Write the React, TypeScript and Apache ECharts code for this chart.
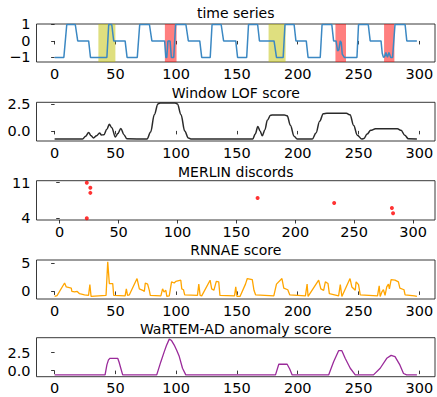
import React, { useEffect, useRef } from 'react';
import * as echarts from 'echarts';

// ---------- data ----------
const xTicks = [0, 50, 100, 150, 200, 250, 300];

const panelTitles = ['time series', 'Window LOF score', 'MERLIN discords', 'RNNAE score', 'WaRTEM-AD anomaly score'];

const timeSeries: [number, number][] = [
  [0, -1], [7.6, -1], [10, 1], [17, 1], [19, 0], [28, 0], [29.5, -1],
  [43, -1], [44.5, 1], [47, 1], [48.6, 0], [58, 0], [59.6, -1],
  [68, -1], [70, 1], [78, 1], [80, 0], [90.5, 0], [91.5, -1], [92.3, -1], [93.2, 0], [95, 0], [96, -1], [98, -1], [99.5, 1],
  [108, 1], [110, 0], [119.4, 0], [121, -1], [128, -1], [129.5, 1], [137, 1], [139, 0], [149, 0], [150.5, -1],
  [158, -1], [159.5, 1], [167, 1], [168.5, 0], [180.5, 0], [182.5, -1], [188, -1], [189.5, 1], [197, 1], [198.5, 0],
  [207, 0], [208.5, -1], [218.5, -1], [220, 1], [228, 1], [229.5, 0], [231.5, 0], [232.8, -0.6], [233.8, -0.55],
  [235, 0], [235.8, -0.1], [236.6, -0.8], [238.3, -1], [248.7, -1], [250, 1], [258, 1], [259.6, 0], [268.5, 0],
  [269.5, -0.75], [270.5, -1], [271.5, -0.95], [272.5, -0.7], [273.8, -1], [275, -0.7], [276.5, -1], [278, -1],
  [280, 1], [288.3, 1], [289.7, 0], [298, 0],
];

const normalRegions: [number, number][] = [[36, 50], [176, 190]];
const anomalyRegions: [number, number][] = [[90.7, 100.3], [231, 239.7], [271, 279.5]];

const lofScore: [number, number][] = [
  [0, -0.76], [23, -0.76], [25.5, -0.5], [28, -0.15], [30, -0.45], [32, -0.66], [34.5, -0.45], [37, -0.2],
  [38.5, -0.38], [40.5, -0.36], [43, 0.15], [45, 0.62], [47, 0.3], [50, -0.57], [52, -0.25], [54.5, 0.22],
  [57, -0.35], [59.5, -0.74], [76, -0.76], [79, -0.1], [82, 1.5], [85, 2.5], [87, 2.6], [99, 2.6], [101, 2.5],
  [104, 1.5], [107, 0.0], [110, -0.65], [112, -0.76], [163, -0.76], [165, -0.3], [167.2, 0.4], [169, 0.0],
  [170.8, -0.46], [173, 0.1], [175, 1.0], [177.6, 1.45], [180, 1.49], [189, 1.49], [191.3, 1.4], [194, 0.5],
  [197, -0.5], [199.5, -0.76], [212, -0.76], [215, -0.2], [218, 0.9], [221, 1.6], [224, 1.64], [240, 1.64],
  [243, 1.5], [246, 0.5], [249, -0.4], [252.7, -0.76], [254.5, -0.7], [257, -0.3], [260, 0.05], [264, 0.2],
  [282, 0.2], [285, 0.05], [288, -0.4], [291, -0.74], [298, -0.76],
];

const merlinX = [23, 26, 26, 168, 233, 282, 283, 23];
const merlinLen = [11, 10, 9, 8, 7, 6, 5, 4];

const rnnaeScore: [number, number][] = [
  [0, -0.9], [2, -0.75], [8.2, 1.5], [9.6, 0.8], [13.7, 0.6], [14.2, 0.0], [16.4, -0.1], [18.6, 0.0], [20.5, -0.4],
  [24.6, -0.6], [27.9, -0.7], [29, 1.2], [30, -0.9], [42.3, -0.7], [43.7, 5.3], [45, 1.4], [47.8, 1.4], [48.6, -0.7],
  [58, -0.8], [59, 0.45], [60, -0.7], [61.5, -0.6], [67.8, 2.3], [69.7, 0.45], [72.5, 0.2], [73.8, 0.0], [74.6, 1.5],
  [76.5, 1.3], [77.9, 0.2], [78.7, -0.7], [87.4, -0.8], [88.8, 0.45], [90, -0.1], [91.5, 0.2], [92.3, -0.9],
  [94.3, -0.8], [96.2, 1.7], [98.4, 1.5], [99.7, 1.8], [103.8, 2.0], [104.6, 0.45], [106, 0.3], [107, -0.6],
  [117.5, -0.7], [118.6, 1.3], [119.7, -0.7], [121, -0.8], [127.9, 2.0], [129.2, 0.45], [131, 0.2], [133, 1.8],
  [135, 1.7], [136, -0.7], [148, -0.8], [149, 0.8], [150, -0.9], [152.5, -0.9], [157, 1.3], [158.5, 2.3],
  [162.6, 2.1], [164, 0.2], [165.3, -0.6], [180.3, -0.8], [182.5, 1.3], [187, 2.3], [188.5, 0.6], [191.8, 0.3],
  [193.4, -0.6], [206.3, -0.8], [207.7, 1.3], [208.5, -0.9], [217.2, 2.0], [219, 0.45], [221.3, 0.2], [222.7, 1.7],
  [224.9, 1.4], [226, -0.4], [233.6, -0.8], [235, 1.2], [236.3, -0.9], [243, 2.3], [244.5, 0.8], [247.3, 0.2],
  [248, 1.7], [250, 1.2], [251.4, -0.6], [265.6, -0.8], [267, 1.0], [267.8, -0.9], [269.2, -0.1], [270.5, 0.3],
  [271.8, -0.7], [273.2, 0.8], [274.6, 1.3], [275.4, 0.45], [276.8, 2.1], [280, 2.0], [282.8, 1.7], [284, 0.6],
  [287.4, 0.3], [288.3, -0.6], [296, -0.8], [298, -0.9],
];

const wartemScore: [number, number][] = [
  [0, -0.6], [41.5, -0.6], [43, 0.8], [44.3, 1.5], [45.6, 1.72], [51.9, 1.72], [53, 1.2], [54.5, 0.3], [56, -0.6],
  [84, -0.6], [87.4, 1.25], [90.2, 2.65], [92, 3.5], [94.3, 4.4], [96.2, 4.2], [98.4, 3.57], [100.5, 2.8],
  [102.5, 2.0], [105.2, 0.33], [107.9, -0.6], [181.7, -0.6], [184.4, 0.89], [191.3, 0.89], [193.5, 0.2],
  [195.4, -0.6], [225.4, -0.6], [229.5, 1.25], [233.6, 2.78], [236.3, 2.78], [239, 1.72], [243.2, 0.33],
  [247.3, -0.6], [262.3, -0.6], [267.8, 0.33], [273.2, 1.72], [276.8, 2.13], [280, 1.95], [284, 0.8], [287, -0.4],
  [289.6, -0.6], [298, -0.6],
];

const yTicks1 = [-1, 0, 1];
const yTicks2 = [0, 2.5];
const yTicks3 = [4, 11];
const yTicks4 = [0, 5];
const yTicks5 = [0, 2.5];

// ---------- layout ----------
const FONT = 'DejaVu Sans';
const LEFT = 36.5;
const RIGHT = 435;
const grids = [
  { top: 24, bottom: 62 },
  { top: 102.3, bottom: 141 },
  { top: 180.7, bottom: 220 },
  { top: 260, bottom: 299 },
  { top: 337.7, bottom: 376.7 },
];
const titleY = [13, 93, 172, 250, 328.5];
const xRanges = [
  [-14.9, 312.9], [-14.9, 312.9], [-19.7, 318.6], [-14.9, 312.9], [-14.9, 312.9],
];
const yRanges = [
  [-1.28, 1.03], [-0.94, 2.66], [3.65, 11.4], [-1.35, 5.6], [-0.85, 4.6],
];

const minus = (v: number, digits = 0) => {
  const s = Math.abs(v).toFixed(digits);
  return v < 0 ? '\u2212' + s : s;
};

export default function App() {
  const ref = useRef<HTMLDivElement>(null);
  useEffect(() => {
    const chart = echarts.init(ref.current!, null, { renderer: 'svg' });
    const yTickSets = [yTicks1, yTicks2, yTicks3, yTicks4, yTicks5];
    const yDigits = [0, 1, 0, 0, 1];

    const grid = grids.map((g) => ({
      left: LEFT,
      top: g.top,
      width: RIGHT - LEFT,
      height: g.bottom - g.top,
      show: true,
      borderColor: '#222',
      borderWidth: 0.9,
      backgroundColor: 'transparent',
    }));

    const xAxis = grids.map((_, i) => ({
      type: 'value',
      gridIndex: i,
      min: xRanges[i][0],
      max: xRanges[i][1],
      axisLine: { show: false },
      splitLine: { show: false },
      axisTick: { show: true, inside: false, length: 3.5, lineStyle: { color: '#222', width: 0.9 }, customValues: xTicks },
      axisLabel: { show: true, customValues: xTicks, fontFamily: FONT, fontSize: 14.5, color: '#000', margin: 4,
        formatter: (v: number) => String(v) },
    }));

    const yAxis = grids.map((_, i) => ({
      type: 'value',
      gridIndex: i,
      min: yRanges[i][0],
      max: yRanges[i][1],
      axisLine: { show: false },
      splitLine: { show: false },
      axisTick: { show: true, inside: false, length: 3.5, lineStyle: { color: '#222', width: 0.9 }, customValues: yTickSets[i] },
      axisLabel: { show: true, customValues: yTickSets[i], fontFamily: FONT, fontSize: 14.5, color: '#000', margin: 6,
        formatter: (v: number) => minus(v, yDigits[i]) },
    }));

    const markAreaData: any[] = [
      ...normalRegions.map(([a, b]) => [
        { xAxis: a, itemStyle: { color: 'rgba(191,191,0,0.5)' } },
        { xAxis: b },
      ]),
      ...anomalyRegions.map(([a, b]) => [
        { xAxis: a, itemStyle: { color: 'rgba(255,0,0,0.5)' } },
        { xAxis: b },
      ]),
    ];

    const series: any[] = [
      {
        type: 'line', xAxisIndex: 0, yAxisIndex: 0, data: timeSeries, showSymbol: false,
        lineStyle: { color: '#3b88c3', width: 1.5 }, z: 3,
        markArea: { silent: true, data: markAreaData, label: { show: false } },
      },
      {
        type: 'line', xAxisIndex: 1, yAxisIndex: 1, data: lofScore, showSymbol: false,
        smooth: 0.35, smoothMonotone: 'x',
        lineStyle: { color: '#2a2a2a', width: 1.5 },
      },
      {
        type: 'scatter', xAxisIndex: 2, yAxisIndex: 2,
        data: merlinX.map((x, k) => [x, merlinLen[k]]),
        symbolSize: 4, itemStyle: { color: '#ff0000' },
      },
      {
        type: 'line', xAxisIndex: 3, yAxisIndex: 3, data: rnnaeScore, showSymbol: false,
        lineStyle: { color: '#ffa500', width: 1.3 },
      },
      {
        type: 'line', xAxisIndex: 4, yAxisIndex: 4, data: wartemScore, showSymbol: false,
        lineStyle: { color: '#9a2a9a', width: 1.3 },
      },
    ];

    const graphic = panelTitles.map((t, i) => ({
      type: 'text',
      x: (LEFT + RIGHT) / 2,
      y: titleY[i],
      style: {
        text: t, fontFamily: FONT, fontSize: 14, fill: '#000',
        textAlign: 'center', textVerticalAlign: 'middle',
      },
    }));

    chart.setOption({
      animation: false,
      backgroundColor: '#fff',
      grid,
      xAxis,
      yAxis,
      series,
      graphic,
    } as any);
    return () => chart.dispose();
  }, []);
  return (
    <div
      ref={ref}
      style={{ position: 'fixed', left: 0, top: 0, width: 437, height: 397, background: '#fff' }}
    />
  );
}
